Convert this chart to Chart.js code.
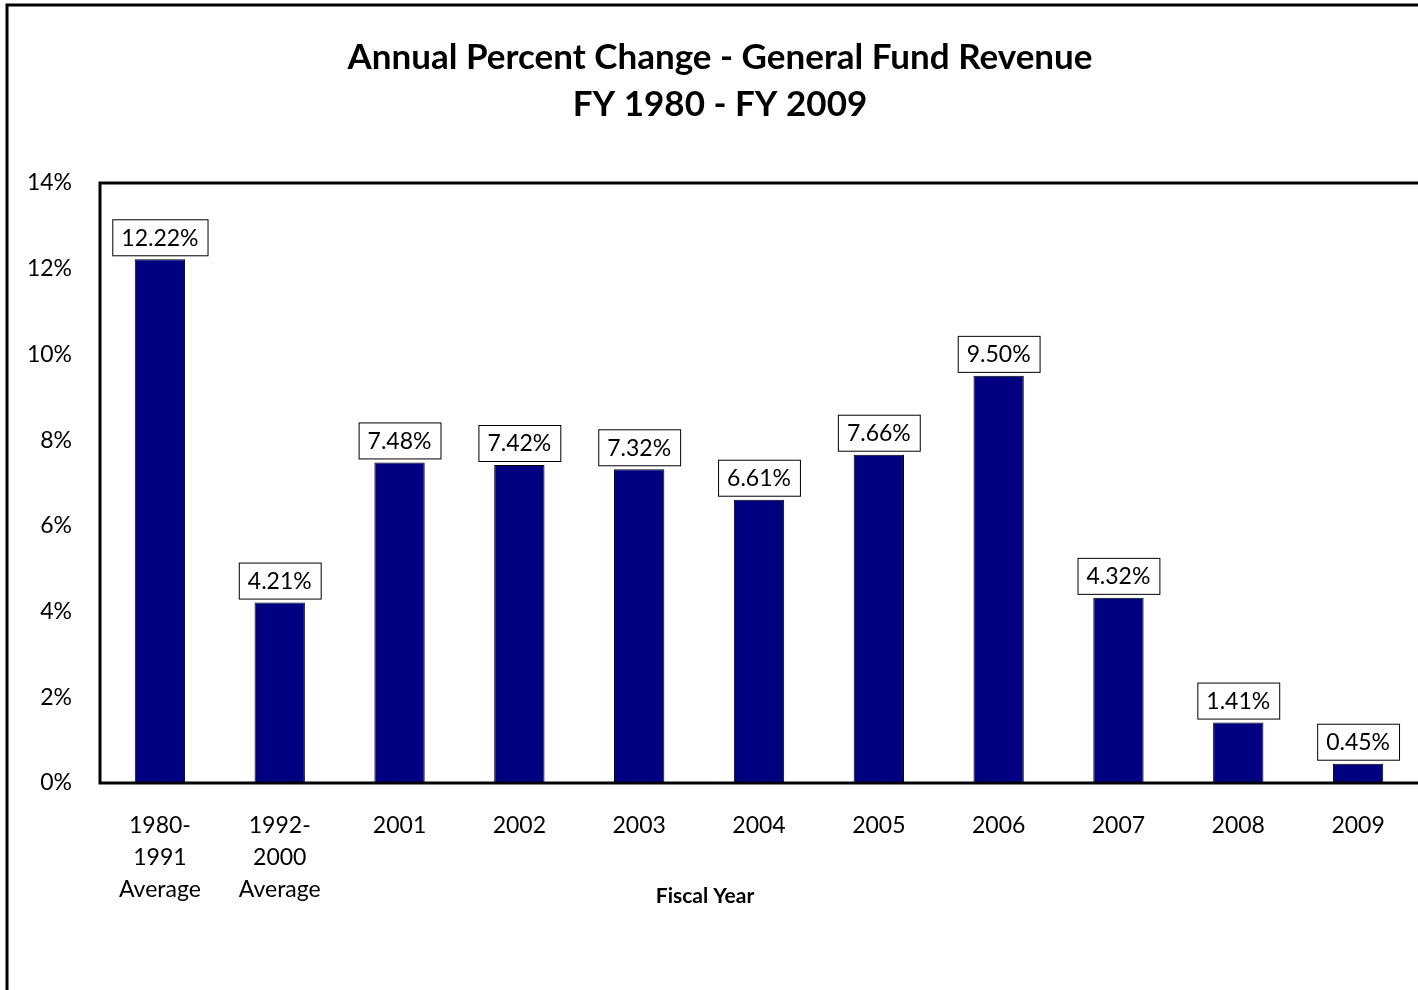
<!DOCTYPE html>
<html>
<head>
<meta charset="utf-8">
<script src="https://cdn.jsdelivr.net/npm/chart.js@4"></script>
<style>
  html, body { margin: 0; padding: 0; background: #fff; }
  canvas { display: block; }
</style>
</head>
<body>
<canvas id="chart" width="1418" height="990"></canvas>
<script>
// Chart data
const categories = [['1980-', '1991', 'Average'], ['1992-', '2000', 'Average'], '2001', '2002', '2003', '2004', '2005', '2006', '2007', '2008', '2009'];
const revenueChange = [12.22, 4.21, 7.48, 7.42, 7.32, 6.61, 7.66, 9.50, 4.32, 1.41, 0.45];
const yTicks = [0, 2, 4, 6, 8, 10, 12, 14];

const FONT = "Lato, 'Open Sans', sans-serif";

// title, frames, axis title and boxed value labels
const decorPlugin = {
    id: 'decor',
    beforeDraw(chart) {
        const ctx = chart.ctx;
        ctx.save();
        ctx.fillStyle = '#fff';
        ctx.fillRect(0, 0, chart.width, chart.height);
        ctx.strokeStyle = '#000';
        ctx.lineWidth = 3;
        ctx.strokeRect(7, 5, chart.width + 20, chart.height + 20);
        ctx.fillStyle = '#000';
        ctx.textAlign = 'center';
        ctx.textBaseline = 'middle';
        ctx.font = 'bold 35px ' + FONT;
        ctx.fillText('Annual Percent Change - General Fund Revenue', 720, 58);
        ctx.fillText('FY 1980 - FY 2009', 720, 105);
        ctx.font = 'bold 21px ' + FONT;
        ctx.fillText('Fiscal Year', 705, 896);
        ctx.restore();
    },
    afterDatasetsDraw(chart) {
        const ctx = chart.ctx;
        const a = chart.chartArea;
        ctx.save();
        ctx.strokeStyle = '#000';
        ctx.lineWidth = 3;
        ctx.strokeRect(a.left, a.top, a.right - a.left + 10, a.bottom - a.top);
        ctx.font = '23px ' + FONT;
        ctx.textAlign = 'center';
        ctx.textBaseline = 'middle';
        chart.getDatasetMeta(0).data.forEach((bar, i) => {
            const txt = revenueChange[i].toFixed(2) + '%';
            const w = ctx.measureText(txt).width + 18;
            const h = 36;
            const x = bar.x - w / 2;
            const y = bar.y - 4 - h;
            ctx.fillStyle = '#fff';
            ctx.fillRect(x, y, w, h);
            ctx.lineWidth = 1;
            ctx.strokeRect(x + 0.5, y + 0.5, w, h);
            ctx.fillStyle = '#000';
            ctx.fillText(txt, bar.x, y + h / 2 + 1);
        });
        ctx.restore();
    }
};

new Chart(document.getElementById('chart'), {
    type: 'bar',
    data: {
        labels: categories,
        datasets: [{
            data: revenueChange,
            backgroundColor: '#000080',
            borderColor: '#000',
            borderWidth: 1,
            categoryPercentage: 1,
            barPercentage: 0.42
        }]
    },
    options: {
        responsive: false,
        animation: false,
        layout: { padding: { top: 183, right: 0, left: 0, bottom: 0 } },
        plugins: { legend: { display: false }, tooltip: { enabled: false } },
        scales: {
            x: {
                offset: true,
                grid: { display: false, drawTicks: false },
                border: { display: false },
                ticks: { color: '#000', font: { family: FONT, size: 23, lineHeight: 1.4 }, padding: 26, maxRotation: 0 },
                afterFit(scale) { scale.height = 207; }
            },
            y: {
                min: 0, max: 14,
                grid: { display: false },
                border: { display: false },
                afterBuildTicks(scale) { scale.ticks = yTicks.map(v => ({ value: v })); },
                ticks: { color: '#000', font: { family: FONT, size: 23 }, padding: 20, callback: v => v + '%' },
                afterFit(scale) { scale.width = 100; }
            }
        }
    },
    plugins: [decorPlugin]
});
</script>
</body>
</html>
